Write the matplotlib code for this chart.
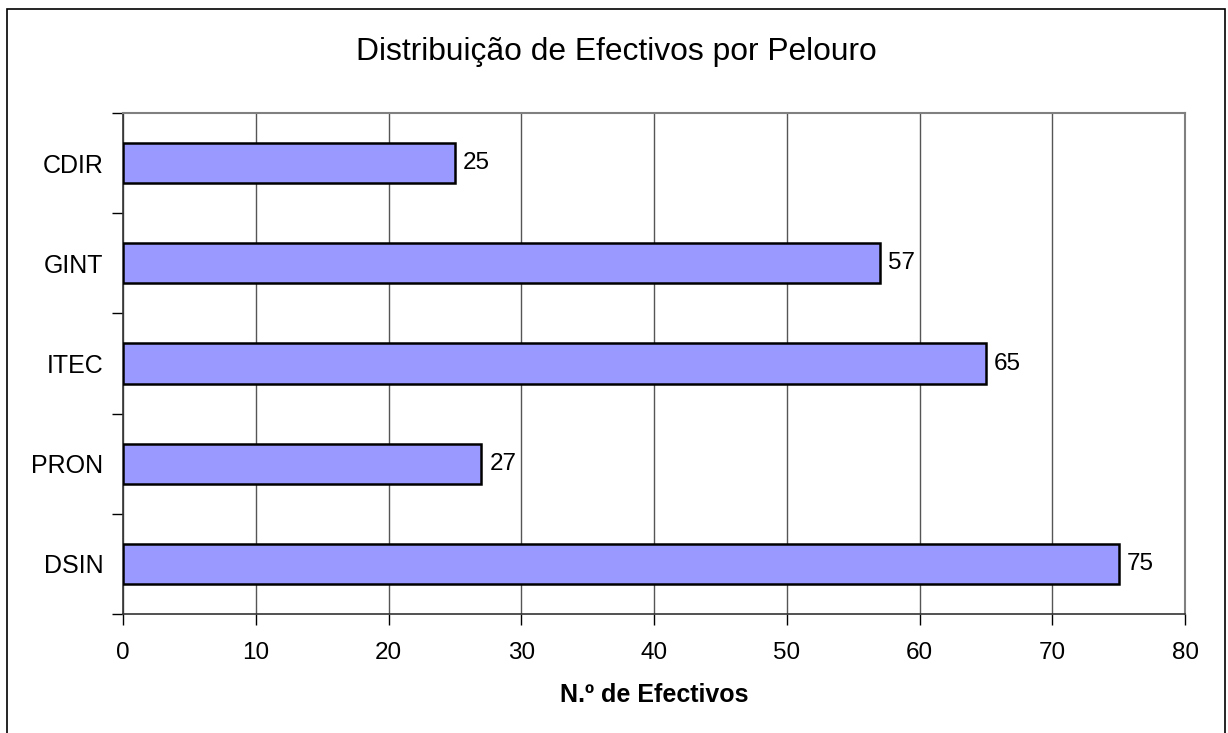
import matplotlib.pyplot as plt
from matplotlib.patches import Rectangle

categorias = ['CDIR', 'GINT', 'ITEC', 'PRON', 'DSIN']
efectivos = [25, 57, 65, 27, 75]
xticks = [0, 10, 20, 30, 40, 50, 60, 70, 80]

plt.rcParams['font.family'] = ['Liberation Sans', 'DejaVu Sans']

fig = plt.figure(figsize=(12.28, 7.33), dpi=100)
ax = fig.add_axes([123/1228, 1 - 614/733, (1185 - 123)/1228, (614 - 113)/733])

# moldura exterior (a base fica fora da imagem)
fig.patches.append(Rectangle((7/1228, -5/733), (1225 - 7)/1228, (733 - 9 + 5)/733,
                             transform=fig.transFigure, fill=False,
                             edgecolor='black', linewidth=1.2, clip_on=False))

pos = list(range(len(categorias)))[::-1]
ax.barh(pos, efectivos, height=0.4, color='#9999FF', edgecolor='black',
        linewidth=1.8, zorder=3)
for p, v in zip(pos, efectivos):
    ax.text(v + 0.6, p, str(v), va='center', ha='left', fontsize=17.5)

ax.set_xlim(0, 80)
ax.set_ylim(-0.5, len(categorias) - 0.5)
ax.set_xticks(xticks)
ax.set_xticklabels([str(t) for t in xticks], fontsize=17.5)
ax.set_yticks(pos)
ax.set_yticklabels(categorias, fontsize=18)
ax.set_yticks([i - 0.5 for i in range(len(categorias) + 1)], minor=True)
ax.tick_params(axis='y', which='major', length=0, pad=14)
ax.tick_params(axis='y', which='minor', length=8, width=1, direction='out')
ax.tick_params(axis='x', length=8, width=1, direction='out', pad=12)

ax.grid(axis='x', color='#555555', linewidth=1, zorder=0)
ax.set_axisbelow(True)
for s in ['top', 'right']:
    ax.spines[s].set_color('#808080')
    ax.spines[s].set_linewidth(1.5)
for s in ['left', 'bottom']:
    ax.spines[s].set_color('#333333')
    ax.spines[s].set_linewidth(1.2)

fig.text(654/1228, 1 - 695/733, 'N.º de Efectivos', ha='center', va='center',
         fontsize=18, fontweight='bold')
fig.text(616/1228, 1 - 60/733, 'Distribuição de Efectivos por Pelouro',
         ha='center', va='baseline', fontsize=22.9)

fig.savefig('out.png', dpi=100)
